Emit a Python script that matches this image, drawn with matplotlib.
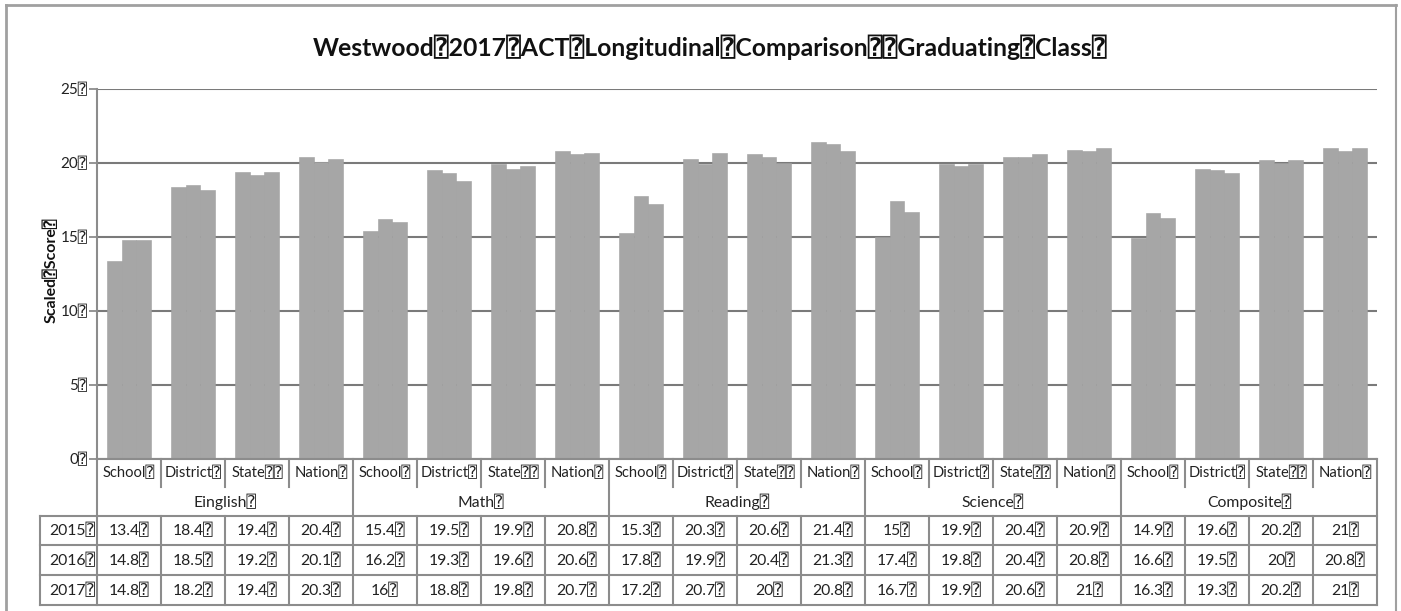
import matplotlib
matplotlib.use("Agg")
import matplotlib.pyplot as plt
from matplotlib.transforms import blended_transform_factory
import numpy as np

BOX = "\u2370"
plt.rcParams['font.family'] = ['Lato', 'DejaVu Sans', 'DejaVu Sans Mono']

title = "Westwood" + BOX + "2017" + BOX + "ACT" + BOX + "Longitudinal" + BOX + "Comparison" + BOX + BOX + "Graduating" + BOX + "Class" + BOX
ylabel = "Scaled" + BOX + "Score" + BOX
subjects = ["Einglish", "Math", "Reading", "Science", "Composite"]
levels = ["School", "District", "State", "Nation"]
level_suffix = [BOX, BOX, BOX + BOX, BOX]
years = ["2015", "2016", "2017"]
y2015 = [13.4, 18.4, 19.4, 20.4, 15.4, 19.5, 19.9, 20.8, 15.3, 20.3, 20.6, 21.4,
         15, 19.9, 20.4, 20.9, 14.9, 19.6, 20.2, 21]
y2016 = [14.8, 18.5, 19.2, 20.1, 16.2, 19.3, 19.6, 20.6, 17.8, 19.9, 20.4, 21.3,
         17.4, 19.8, 20.4, 20.8, 16.6, 19.5, 20, 20.8]
y2017 = [14.8, 18.2, 19.4, 20.3, 16, 18.8, 19.8, 20.7, 17.2, 20.7, 20, 20.8,
         16.7, 19.9, 20.6, 21, 16.3, 19.3, 20.2, 21]
yticks = [0, 5, 10, 15, 20, 25]

W, H = 1401, 611
def fx(p): return p / W
def fy(p): return 1 - p / H

fig = plt.figure(figsize=(W / 100, H / 100), dpi=100)
LEFT, RIGHT, TOP, BOT = 97, 1377, 89, 459
ax = fig.add_axes([fx(LEFT), fy(BOT), fx(RIGHT) - fx(LEFT), fy(TOP) - fy(BOT)])

series = [y2015, y2016, y2017]
n = len(y2015)
x = np.arange(n) + 0.5
bw = 0.225
barc = '#a6a6a6'
for k, vals in enumerate(series):
    ax.bar(x + (k - 1) * bw, vals, width=bw, color=barc, edgecolor='#a0a0a0', linewidth=0.4, zorder=2)

ax.set_xlim(0, n)
ax.set_ylim(0, 25)
ax.set_yticks(yticks)
ax.set_yticklabels([f"{t}{BOX}" for t in yticks], fontsize=11, color='#222222')
ax.yaxis.grid(True, color='#7a7a7a', linewidth=1.5, zorder=1)
ax.set_axisbelow(True)
ax.set_xticks([])
for s in ['top', 'right', 'bottom']:
    ax.spines[s].set_visible(False)
ax.spines['left'].set_color('#8c8c8c')
ax.spines['left'].set_linewidth(1.5)
ax.tick_params(axis='y', length=6, width=1.3, color='#8c8c8c', pad=1)

fig.text(fx(51), fy(270), ylabel, rotation=90, ha='center', va='center',
         fontsize=11.5, fontweight='bold', color='#111111')
fig.text(fx(710), fy(47), title, ha='center', va='center', fontsize=17.8,
         fontweight='bold', color='#111111')

# table
tr = blended_transform_factory(ax.transData, fig.transFigure)
lc = '#8c8c8c'
lw = 1.5
Y_CAT_B, Y_GRP_B = 487, 516
rows_y = [516, 545, 575, 605]
TL = 40
x_left_data = (TL - LEFT) / ((RIGHT - LEFT) / n)

ax.plot([0, n], [fy(BOT)] * 2, transform=tr, color=lc, lw=lw, clip_on=False)
for ry in rows_y:
    ax.plot([x_left_data, n], [fy(ry)] * 2, transform=tr, color=lc, lw=lw, clip_on=False)
ax.plot([x_left_data] * 2, [fy(rows_y[0]), fy(rows_y[-1])], transform=tr, color=lc, lw=lw, clip_on=False)
nl = len(levels)
for i in range(n + 1):
    if i % nl == 0:
        ax.plot([i, i], [fy(BOT), fy(rows_y[-1])], transform=tr, color=lc, lw=lw, clip_on=False)
    else:
        ax.plot([i, i], [fy(BOT), fy(Y_CAT_B)], transform=tr, color=lc, lw=lw, clip_on=False)
        ax.plot([i, i], [fy(rows_y[0]), fy(rows_y[-1])], transform=tr, color=lc, lw=lw, clip_on=False)

fs = 11.3
for i in range(n):
    j = i % nl
    ax.text(i + 0.5, fy(473), levels[j] + level_suffix[j], transform=tr, ha='center', va='center',
            fontsize=10.6, color='#222222')
for g, s in enumerate(subjects):
    ax.text(g * nl + nl / 2, fy(502), s + BOX, transform=tr, ha='center', va='center',
            fontsize=fs, color='#222222')
for r, (yr, vals) in enumerate(zip(years, series)):
    yc = (rows_y[r] + rows_y[r + 1]) / 2
    fig.text(fx(LEFT - 2), fy(yc), yr + BOX, ha='right', va='center', fontsize=fs, color='#222222')
    for i, v in enumerate(vals):
        ax.text(i + 0.5, fy(yc), f"{v:g}{BOX}", transform=tr, ha='center', va='center',
                fontsize=fs, color='#222222')

# outer frame
fc = '#a0a0a0'
fig.add_artist(plt.Line2D([fx(6), fx(1396)], [fy(5), fy(5)], color=fc, lw=2))
fig.add_artist(plt.Line2D([fx(6), fx(6)], [fy(5), 0], color=fc, lw=2))
fig.add_artist(plt.Line2D([fx(1396), fx(1396)], [fy(5), 0], color=fc, lw=1.5))

fig.savefig("out.png", dpi=100)
